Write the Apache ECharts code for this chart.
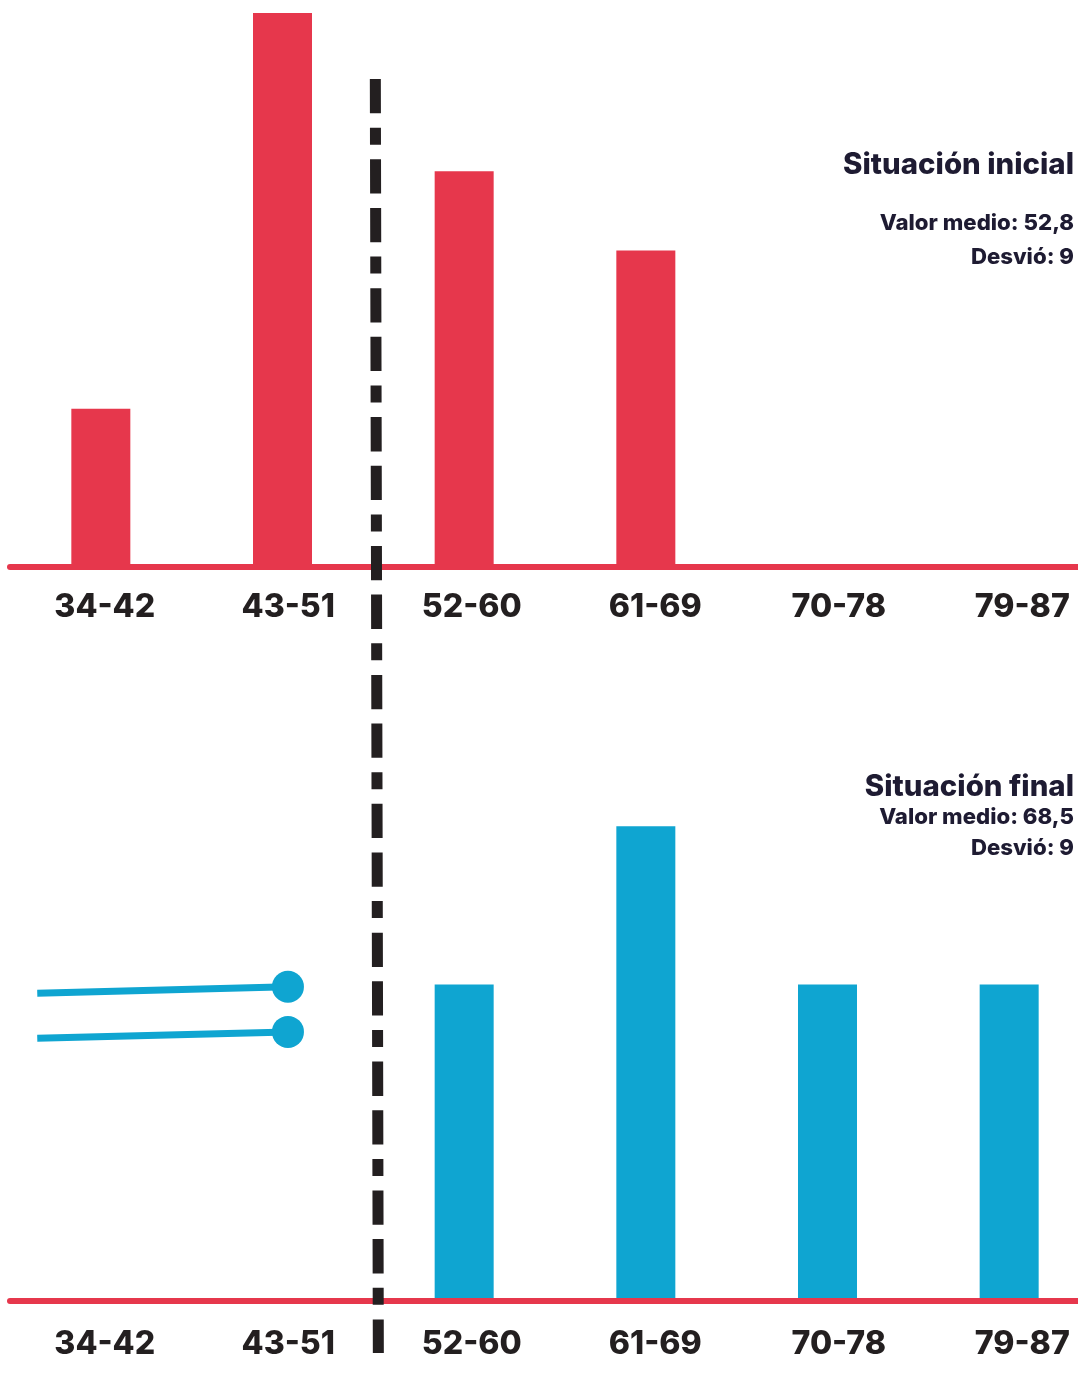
<!DOCTYPE html>
<html>
<head>
<meta charset="utf-8">
<script src="https://cdn.jsdelivr.net/npm/echarts@6/dist/echarts.min.js"></script>
<style>
html,body{margin:0;padding:0;background:#fff;}
#main{width:1078px;height:1397px;}
</style>
</head>
<body>
<div id="main"></div>
<script>
// ---- data ----
var categories = ['34-42', '43-51', '52-60', '61-69', '70-78', '79-87'];
var initialCounts = [2, 7, 5, 4, 0, 0];
var finalCounts = [0, 0, 4, 6, 4, 4];
// lollipop markers in the lower panel: [x (category units), y (count units)]
var lollipopA = [[0.15, 3.89], [1.53, 3.97]];
var lollipopB = [[0.15, 3.32], [1.53, 3.40]];
var dividerAt = 2; // boundary between 43-51 and 52-60 (category units)
var titleInitial = 'Situación inicial';
var statsInitial = ['Valor medio: 52,8', 'Desvió: 9'];
var titleFinal = 'Situación final';
var statsFinal = ['Valor medio: 68,5', 'Desvió: 9'];

var RED = '#e6374c', BLUE = '#0fa5d1', INK = '#1e1b32', LABEL = '#231f20', DASH = '#231f20';
var FAM = 'Inter, "Noto Sans", sans-serif';
var W_TEXT = '800';

function fit(text, weight, target) {
  var c = document.createElement('canvas').getContext('2d');
  c.font = weight + ' 100px ' + FAM;
  return 100 * target / c.measureText(text).width;
}
var labelSize = fit('52-60', W_TEXT, 100);
var titleSize = fit(titleInitial, W_TEXT, 231);
var statSize = fit('Valor medio: 68,5', W_TEXT, 195);

var chart = echarts.init(document.getElementById('main'), null, {renderer: 'canvas'});

function catAxis(grid, showLine, margin) {
  return {
    type: 'category', gridIndex: grid, data: categories, boundaryGap: true, z: 3,
    axisLine: {show: showLine, lineStyle: {color: RED, width: 6}},
    axisTick: {show: false},
    splitLine: {show: false},
    axisLabel: showLine ? {show: false} : {
      show: true, margin: margin, color: LABEL, fontFamily: FAM, fontWeight: W_TEXT, fontSize: labelSize,
      hideOverlap: false, showMinLabel: true, showMaxLabel: true, interval: 0
    }
  };
}
function valAxis(grid) {
  return {type: 'value', gridIndex: grid, min: 0, max: 7, show: false, splitLine: {show: false}};
}
function lolli(data) {
  return {
    type: 'line', xAxisIndex: 4, yAxisIndex: 2, silent: true, z: 4,
    lineStyle: {color: BLUE, width: 7},
    itemStyle: {color: BLUE},
    data: [
      {value: data[0], symbol: 'none'},
      {value: data[1], symbol: 'circle', symbolSize: 32}
    ],
    showSymbol: true, animation: false
  };
}
function grid(left, top, width) {
  return {left: left, top: top, width: width, height: 554, outerBoundsMode: 'none', containLabel: false};
}

var option = {
  animation: false,
  grid: [grid(10, 13, 1090), grid(13, 13, 1101), grid(10, 747, 1090), grid(13, 747, 1101)],
  xAxis: [
    catAxis(0, true),
    catAxis(1, false, 24),
    catAxis(2, true),
    catAxis(3, false, 27),
    {type: 'value', gridIndex: 2, min: 0, max: 6, show: false, splitLine: {show: false}}
  ],
  yAxis: [valAxis(0), valAxis(1), valAxis(2), valAxis(3)],
  series: [
    {type: 'bar', xAxisIndex: 0, yAxisIndex: 0, data: initialCounts, barWidth: 59,
     itemStyle: {color: RED}, silent: true},
    {type: 'bar', xAxisIndex: 2, yAxisIndex: 2, data: finalCounts, barWidth: 59,
     itemStyle: {color: BLUE}, silent: true},
    lolli(lollipopA),
    lolli(lollipopB)
  ]
};
chart.setOption(option);

var dx = chart.convertToPixel({xAxisIndex: 4}, dividerAt);
function txt(t, y, size) {
  return {
    type: 'text', z: 20,
    style: {text: t, x: 1074, y: y, textAlign: 'right', textVerticalAlign: 'middle',
      fill: INK, font: W_TEXT + ' ' + size + 'px ' + FAM}
  };
}
chart.setOption({
  graphic: [
    {type: 'line', z: 30,
     shape: {x1: dx + 2, y1: 79, x2: dx + 5, y2: 1353},
     style: {stroke: DASH, lineWidth: 11, lineDash: [34.3, 14.4, 17, 14.6, 34.3, 14.3], lineCap: 'butt'}},
    txt(titleInitial, 165, titleSize),
    txt(statsInitial[0], 223.5, statSize),
    txt(statsInitial[1], 257, statSize),
    txt(titleFinal, 787, titleSize),
    txt(statsFinal[0], 817, statSize),
    txt(statsFinal[1], 848, statSize)
  ]
});
</script>
</body>
</html>
